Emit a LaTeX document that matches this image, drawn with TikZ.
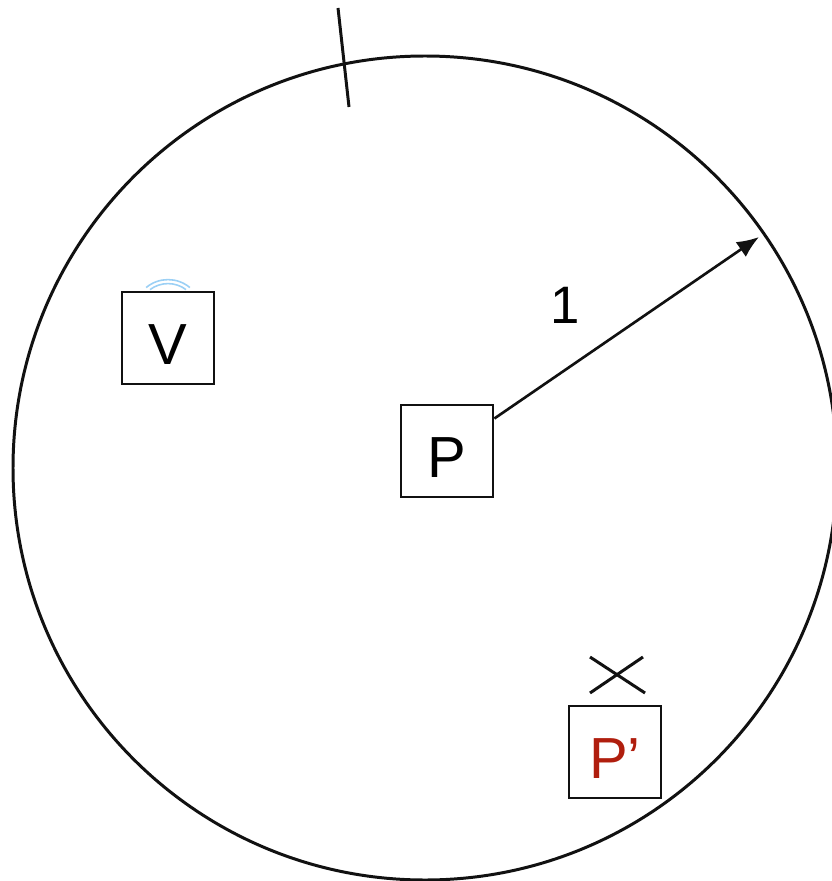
\documentclass[tikz,border=0pt]{standalone}
\usepackage{fontspec}
\setmainfont{Liberation Sans}
\usepackage{xcolor}
\usepackage{tikz}
\usetikzlibrary{arrows.meta,calc}
\definecolor{diskInk}{HTML}{111111}
\definecolor{diskRed}{HTML}{B01E0E}
\definecolor{signalBlue}{HTML}{9BD0F5}
\tikzset{
  letterbox/.style={
    rectangle,
    draw=diskInk,
    line width=1.6pt,
    minimum size=1.84cm,
    inner sep=0pt,
    text height=30pt,
    text depth=0pt,
    font=\fontsize{33}{33}\selectfont
  },
  rimline/.style={
    draw=diskInk,
    line width=1.7pt
  },
  radiusArrow/.style={
    -{Latex[length=4.4mm,width=3.6mm]},
    line width=1.5pt,
    draw=diskInk
  },
  signal/.style={
    draw=signalBlue,
    line width=0.9pt
  }
}

\begin{document}
\begin{tikzpicture}[x=0.02cm,y=-0.02cm]
  \useasboundingbox (0,0) rectangle (831,881);
  \coordinate (centre) at (425,468);
  \draw[rimline] (centre) circle[radius=412];
  % mark across the rim
  \coordinate (tickTop) at (338,8);
  \coordinate (tickBottom) at (349,107);
  \draw[rimline] (tickTop) -- (tickBottom);

  \node[letterbox] (V) at (168,338) {V};
  \node[letterbox] (P) at (447,451) {P};
  \node[letterbox,text=diskRed] (Pprime) at (615,752) {P’};

  \coordinate (rim) at (759,237);
  \draw[radiusArrow] (P) -- (rim);
  \node[font=\fontsize{30}{30}\selectfont] (one) at (565,305) {1};

  % signal over V
  \draw[signal] ($(V.north)+(0,23)$) ++(230:34) arc[start angle=230,end angle=310,radius=34];
  \draw[signal] ($(V.north)+(0,23)$) ++(233:30) arc[start angle=233,end angle=307,radius=30];

  % cross over P'
  \coordinate (crossA) at (590,657);
  \coordinate (crossB) at (645,693);
  \coordinate (crossC) at (590,693);
  \coordinate (crossD) at (643,657);
  \draw[rimline] (crossA) -- (crossB);
  \draw[rimline] (crossC) -- (crossD);
\end{tikzpicture}
\end{document}
